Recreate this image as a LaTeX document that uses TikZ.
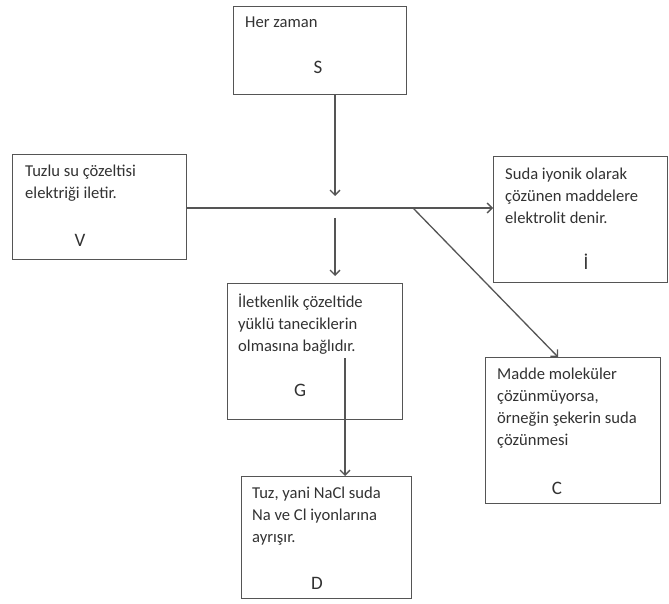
\documentclass[tikz,border=0pt]{standalone}
\usepackage{fontspec}
\setmainfont{Carlito}
\usetikzlibrary{arrows.meta,positioning}
\definecolor{linegray}{RGB}{85,85,85}
\definecolor{textgray}{RGB}{50,50,50}

\begin{document}
\begin{tikzpicture}[x=1pt,y=-1pt,font=\fontsize{16.6}{22}\selectfont,
  box/.style={draw=linegray,line width=1.3pt,anchor=north west,inner sep=0pt},
  txt/.style={anchor=north west,align=left,text=textgray,inner sep=0pt},
  lbl/.style={font=\fontsize{19}{22}\selectfont,text=textgray,inner sep=0pt},
  arr/.style={draw=linegray,line width=1.3pt,-{Straight Barb[length=5pt,width=10pt]}}]
  \useasboundingbox (0,0) rectangle (669,604);
  % boxes
  \node[box,minimum width=173pt,minimum height=88pt]  (S) at (233,6) {};
  \node[box,minimum width=174pt,minimum height=105pt] (V) at (12,154) {};
  \node[box,minimum width=174pt,minimum height=126pt] (I) at (493,156) {};
  \node[box,minimum width=175pt,minimum height=136pt] (G) at (227,283) {};
  \node[box,minimum width=175pt,minimum height=146pt] (C) at (485,357) {};
  \node[box,minimum width=170pt,minimum height=122pt] (D) at (241,476) {};
  % texts
  \node[txt] (Stxt) at (245,17) {Her zaman};
  \node[lbl] (Slbl) at (318,67) {S};
  \node[txt] (Vtxt) at (25,165) {Tuzlu su çözeltisi\\elektriği iletir.};
  \node[lbl] (Vlbl) at (80,240) {V};
  \node[txt] (Itxt) at (505,168) {Suda iyonik olarak\\çözünen maddelere\\elektrolit denir.};
  \node[lbl] (Ilbl) at (586,262) {İ};
  \node[txt] (Gtxt) at (238,294) {İletkenlik çözeltide\\yüklü taneciklerin\\olmasına bağlıdır.};
  \node[lbl] (Glbl) at (300,390) {G};
  \node[txt] (Ctxt) at (497,368) {Madde moleküler\\çözünmüyorsa,\\örneğin şekerin suda\\çözünmesi};
  \node[lbl] (Clbl) at (557,488) {C};
  \node[txt] (Dtxt) at (252,487) {Tuz, yani NaCl suda\\Na ve Cl iyonlarına\\ayrışır.};
  \node[lbl] (Dlbl) at (317,583) {D};
  % connectors
  \coordinate (jn) at (335,208);
  \coordinate (jnup) at (335,196);
  \coordinate (jndown) at (335,218);
  \coordinate (gin) at (335,276);
  \coordinate (split) at (413,208);
  \coordinate (cin) at (558,357);
  \coordinate (gout) at (345,358);
  \draw[arr] (S.south -| jn) -- (jnup);
  \draw[arr] (V.east |- jn) -- (I.west |- jn);
  \draw[arr] (jndown) -- (gin);
  \draw[arr] (split) -- (cin);
  \draw[arr] (gout) -- (D.north -| gout);
\end{tikzpicture}
\end{document}
